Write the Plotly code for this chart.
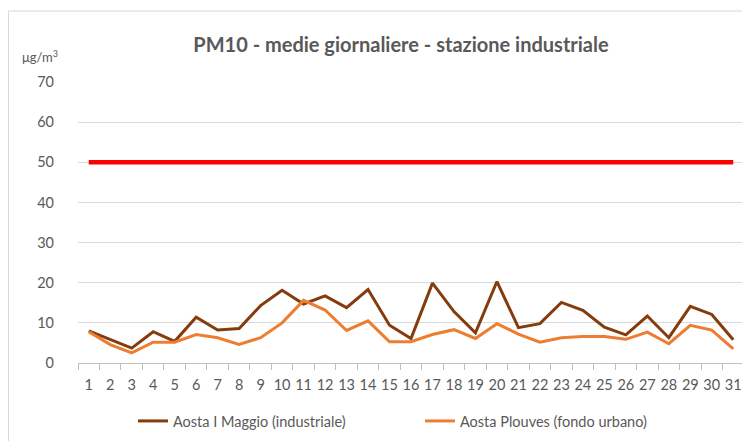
import plotly.graph_objects as go

days = list(range(1, 32))
day_labels = [str(d) for d in days]
maggio = [8.0, 5.8, 3.7, 7.8, 5.4, 11.4, 8.2, 8.6, 14.3, 18.1, 14.7, 16.7, 13.8, 18.3, 9.4,
          6.1, 19.9, 12.8, 7.5, 20.3, 8.8, 9.8, 15.1, 13.1, 8.9, 7.0, 11.7, 6.3, 14.1, 12.1, 5.8]
plouves = [7.8, 4.6, 2.5, 5.2, 5.2, 7.1, 6.3, 4.6, 6.3, 10.0, 15.6, 13.2, 8.1, 10.5, 5.3,
           5.3, 7.1, 8.3, 6.1, 9.8, 7.2, 5.2, 6.3, 6.6, 6.6, 5.9, 7.7, 4.8, 9.4, 8.2, 3.5]
limit = [50] * 31
yticks = [0, 10, 20, 30, 40, 50, 60, 70]

FONT = "Lato"
GRAY = "#595959"
# the page body adds an 8px margin, so the figure is 742x433 and placed at (8, 8)
OFF = 8
W, H = 750 - OFF, 441 - OFF
L, R, T, B = 78 - OFF, 6, 82 - OFF, 441 - 363
PW, PH = W - L - R, H - T - B


def px(xp):
    return (xp - OFF - L) / PW


def py(yp):
    return (H - B - (yp - OFF)) / PH


fig = go.Figure()
fig.add_trace(go.Scatter(x=days, y=limit, mode="lines", showlegend=False,
                         line=dict(color="#FF0000", width=4.5), hoverinfo="skip"))
fig.add_trace(go.Scatter(x=days, y=maggio, mode="lines", name="Aosta I Maggio (industriale)",
                         line=dict(color="#843C0C", width=3)))
fig.add_trace(go.Scatter(x=days, y=plouves, mode="lines", name="Aosta Plouves (fondo urbano)",
                         line=dict(color="#ED7D31", width=3)))

fig.update_layout(
    width=W, height=H,
    margin=dict(l=L, r=R, t=T, b=B, autoexpand=False),
    paper_bgcolor="white", plot_bgcolor="white",
    font=dict(family=FONT, color=GRAY, size=14),
    title=dict(text="<b>PM10 - medie giornaliere - stazione industriale</b>",
               x=(401 - OFF) / W, xanchor="center", y=1 - (45 - OFF) / H, yanchor="middle",
               font=dict(family=FONT, size=20, color=GRAY)),
    xaxis=dict(range=[0.5, 31.5], tickvals=days, ticktext=day_labels, ticks="",
               showgrid=False, showline=True, linecolor="#BFBFBF", linewidth=1,
               zeroline=False, tickfont=dict(size=14.5, color=GRAY), automargin=False,
               minor=dict(tick0=0.5, dtick=1, ticks="outside", ticklen=6,
                          tickcolor="#BFBFBF", showgrid=False),
               ticklabelstandoff=9),
    yaxis=dict(range=[0, 70], tickvals=yticks, showgrid=True, gridcolor="#D9D9D9",
               gridwidth=1, zeroline=False, showline=False, ticks="", automargin=False,
               tickfont=dict(size=14.5, color=GRAY), ticklabelstandoff=23),
    legend=dict(orientation="h", x=px(133), xanchor="left",
                y=-(421 - 363) / PH, yanchor="middle",
                font=dict(size=14.5, color=GRAY), entrywidth=242, entrywidthmode="pixels",
                itemwidth=30, traceorder="normal", bgcolor="rgba(0,0,0,0)"),
    annotations=[dict(text="μg/m<sup>3</sup>", xref="paper", yref="paper",
                      x=px(20), y=py(57), xanchor="left", yanchor="middle",
                      showarrow=False, font=dict(size=13, color=GRAY, family=FONT))],
    shapes=[dict(type="rect", xref="paper", yref="paper",
                 x0=(0.5 - L) / PW, x1=1.2, y0=-1, y1=py(11),
                 line=dict(color="#D9D9D9", width=1), fillcolor="rgba(0,0,0,0)", layer="below")],
)

fig.write_html("out.html")
